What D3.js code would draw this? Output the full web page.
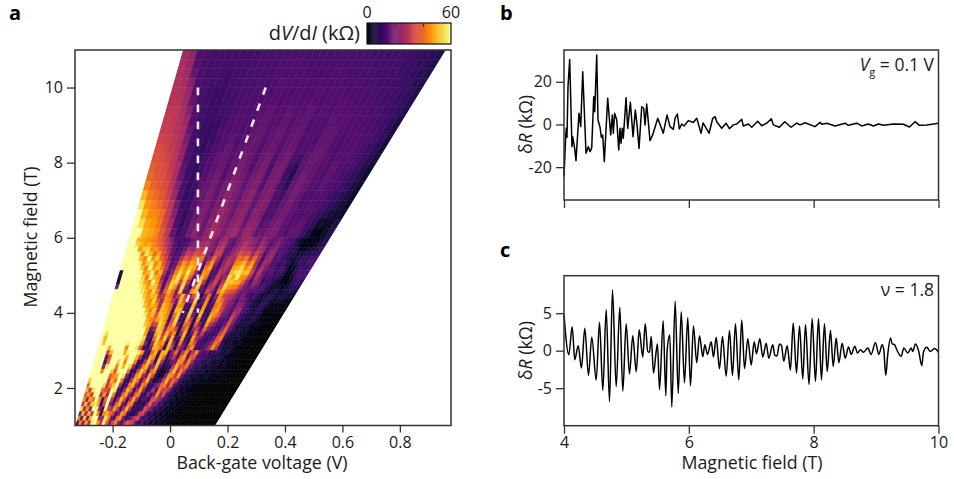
<!DOCTYPE html>
<html lang="en">
<head>
<meta charset="UTF-8">
<title>dV/dI and resistance oscillations</title>
<script src="https://d3js.org/d3.v7.min.js"></script>
<style>
  html, body { margin: 0; background: #fff; }
  text { font-family: "Open Sans", sans-serif; fill: #1a1a1a; }
  .tick text { font-size: 16px; }
  .tick line { stroke: #333; stroke-width: 1.3; }
  .domain { display: none; }
  .frame { fill: none; stroke: #333; stroke-width: 1.5; }
  .title { font-size: 17.8px; }
  .letter { font-size: 20px; font-weight: 700; fill: #000; }
  .trace { fill: none; stroke: #000; stroke-width: 1.5; stroke-linejoin: round; }
</style>
</head>
<body>
<svg id="fig" width="954" height="479"></svg>
<script>
// panel a: dV/dI in kOhm, columns run across the fan from its left edge to its right edge
// rows from 11 T down to 6 T
var upperRows = [
  [26,24,14,13,12,12,12,12,12,12,12,13,13,13,13,13,14,13,13,13,13,13,13,13,13,13,12,12,12,12,12,11,11,10,9,8],
  [27,25,15,13,12,12,12,12,12,12,12,13,13,13,14,14,14,14,13,13,13,13,13,13,13,13,13,12,12,12,12,11,11,10,9,8],
  [28,26,17,13,12,12,12,11,12,12,13,13,13,13,14,14,14,14,14,13,13,13,14,14,13,13,13,13,12,12,12,12,11,10,9,8],
  [28,27,22,14,13,12,12,11,12,12,13,13,14,13,14,15,14,14,14,14,14,14,14,14,14,13,14,13,13,12,12,12,11,11,9,8],
  [29,28,25,15,13,12,11,11,12,12,13,14,14,13,14,15,14,14,15,14,14,15,14,15,14,14,14,14,13,13,12,12,12,11,10,8],
  [29,29,26,17,13,12,11,11,12,12,13,14,14,14,15,15,14,15,15,14,15,15,14,15,14,15,14,14,13,14,13,12,12,11,10,8],
  [30,30,27,22,14,12,11,11,12,12,13,14,14,14,15,16,15,15,16,15,15,16,14,15,14,15,15,14,14,14,13,13,12,11,10,8],
  [31,30,28,25,15,12,11,11,11,12,14,15,14,14,16,16,15,15,16,15,16,16,14,15,14,16,15,15,14,14,14,13,12,12,10,7],
  [32,31,29,27,17,12,11,10,11,13,14,15,14,15,16,17,15,16,17,15,16,17,14,15,14,16,16,15,14,15,14,13,13,12,10,7],
  [33,32,30,28,20,12,11,10,11,13,15,16,14,15,17,17,15,16,18,15,17,17,14,15,14,17,16,15,13,15,15,14,13,12,10,6],
  [35,34,31,29,23,13,11,10,12,14,15,17,15,16,18,17,15,17,18,14,17,18,14,14,15,17,17,15,13,15,15,14,13,11,9,6],
  [36,35,33,30,25,14,11,10,12,14,16,17,15,16,19,18,15,18,19,14,18,19,13,12,16,18,17,15,13,15,15,14,13,11,9,6],
  [38,36,35,31,27,16,11,10,12,15,16,18,15,17,20,18,15,18,20,14,19,19,12,9,16,18,17,15,14,16,15,14,13,11,8,5],
  [40,37,36,33,28,18,12,10,12,15,17,19,15,18,21,19,16,19,21,15,19,20,12,8,16,19,17,15,14,16,15,13,12,10,8,5],
  [44,39,37,35,30,22,13,10,12,16,17,19,16,19,22,20,16,20,21,15,20,20,13,9,17,19,17,15,14,16,14,13,12,10,7,5],
  [50,42,40,37,33,26,15,10,11,16,18,20,16,20,23,20,17,21,22,16,20,21,14,12,17,19,17,14,14,15,14,12,11,9,7,4],
  [56,46,43,40,36,30,19,11,11,15,18,20,17,20,24,21,17,21,22,16,21,21,14,13,17,19,16,14,14,15,13,12,10,8,6,4],
  [60,50,45,44,40,32,23,13,10,14,18,21,17,21,25,22,18,22,23,17,22,21,14,14,18,19,16,15,14,15,13,11,9,6,5,4],
  [60,55,48,46,42,34,27,15,10,13,19,22,18,22,26,23,19,23,24,18,23,22,15,16,19,20,16,15,15,16,12,10,5,4,4,8],
  [60,60,50,48,45,38,30,18,11,13,19,23,18,23,27,24,20,24,26,19,25,23,16,18,20,21,16,14,16,16,12,8,3,2,4,8]
];
// rows from 6 T down to 1 T, finer because the fringes are finer there
var lowerRows = [
  [60,60,50,48,46,44,42,38,34,28,20,14,11,12,14,18,20,22,24,26,22,18,24,26,18,16,20,24,26,24,22,18,24,20,16,18,20,16,14,12,8,4,3,2,2,3,6,8],
  [60,60,54,50,47,48,44,40,36,30,24,15,11,12,15,20,22,26,26,28,22,18,26,28,18,15,20,24,28,26,22,18,26,22,15,18,22,16,14,12,9,5,2,2,3,4,7,9],
  [60,60,60,46,52,54,44,46,38,34,26,16,12,13,18,26,24,30,30,32,22,20,30,30,16,16,22,26,30,28,26,20,28,24,15,20,22,15,14,11,9,7,3,3,5,6,8,10],
  [60,60,60,58,44,56,50,40,48,36,30,18,13,14,22,32,30,36,34,38,22,18,34,32,16,18,24,28,36,32,34,24,34,26,14,22,24,14,15,12,8,8,5,6,8,8,9,11],
  [60,60,60,60,50,44,58,46,52,40,34,22,14,16,28,38,34,42,40,42,20,24,40,28,14,22,28,26,40,38,42,30,40,28,14,24,26,13,16,11,10,6,6,8,10,9,12,12],
  [60,60,60,60,58,46,52,56,44,50,36,28,15,18,34,46,40,48,46,40,16,34,46,22,12,24,30,24,44,46,50,38,46,26,14,26,22,14,14,10,12,7,4,7,12,10,13,13],
  [60,60,60,60,60,52,44,58,48,52,42,30,16,20,40,50,44,52,48,34,14,42,48,18,12,26,28,22,48,50,54,44,50,30,16,28,20,16,15,9,13,9,3,5,10,12,10,14],
  [8,60,60,60,60,60,46,50,56,42,50,28,14,24,44,54,46,56,44,26,12,46,44,14,14,30,26,20,50,54,56,50,52,34,18,30,18,14,16,10,12,10,2,3,8,14,12,13],
  [4,60,60,60,60,60,54,42,58,50,46,24,13,28,48,56,42,54,38,18,16,50,40,12,16,32,22,24,54,48,58,46,44,30,16,28,20,12,14,11,10,8,2,2,6,12,14,12],
  [6,60,60,60,60,60,56,48,44,58,48,30,14,32,52,54,34,52,30,12,24,52,30,10,22,34,18,30,52,52,50,48,38,24,14,24,22,10,12,12,7,5,3,2,4,10,12,10],
  [20,60,60,60,60,60,58,54,46,52,52,36,14,36,54,46,26,54,22,10,36,54,20,10,28,30,14,36,54,46,44,42,30,20,16,20,18,12,14,10,5,4,5,3,5,8,10,8],
  [60,60,60,60,60,60,60,56,50,44,54,42,18,38,50,40,20,52,16,16,46,50,14,14,34,26,12,42,50,40,36,34,26,18,18,16,14,14,12,7,4,6,8,4,6,7,8,6],
  [60,60,60,60,60,60,60,60,52,46,50,50,28,30,46,40,22,30,50,30,20,36,50,8,22,40,12,24,46,34,30,28,22,16,20,14,10,14,8,5,6,10,7,5,7,6,5,4],
  [60,60,60,60,60,60,60,60,58,48,44,54,38,24,46,44,30,18,50,38,16,24,54,10,16,44,10,18,46,40,30,24,20,14,20,18,12,10,6,4,8,10,6,4,5,4,3,2],
  [60,60,60,60,60,60,60,60,60,52,46,50,46,26,50,46,40,14,46,44,14,12,50,16,12,46,12,14,42,46,32,22,20,14,22,22,14,10,6,6,10,8,4,3,3,2,2,1],
  [60,60,60,60,60,60,60,60,60,60,50,44,52,30,50,48,42,12,50,50,12,10,54,14,10,48,10,12,44,48,34,22,18,14,24,26,14,12,8,6,10,6,3,2,2,1,1,1],
  [60,60,60,60,60,60,60,60,60,60,56,46,50,36,52,50,44,12,42,52,12,12,52,20,10,50,12,10,48,44,36,20,18,12,30,24,14,10,6,6,8,6,2,1,1,1,0,0],
  [60,60,60,60,60,60,60,60,60,60,60,50,44,40,48,52,46,14,36,54,14,10,48,30,8,46,14,10,50,38,30,16,14,14,34,22,12,8,7,6,8,5,3,2,1,1,0,0],
  [60,60,60,60,60,60,60,60,60,60,60,52,48,30,34,54,48,18,38,52,20,10,40,38,8,38,20,10,46,30,22,14,12,18,36,20,10,8,6,7,5,3,4,2,1,0,0,0],
  [60,60,60,60,60,60,60,60,60,60,60,60,46,18,24,52,50,24,44,44,34,8,34,44,8,26,32,14,40,22,16,12,10,24,38,18,12,6,7,4,6,3,2,1,1,0,0,0],
  [60,55,60,60,60,60,60,60,60,60,60,60,48,12,14,48,52,30,50,34,46,8,24,50,10,16,42,20,30,14,12,10,14,30,40,14,8,5,7,4,5,2,1,1,0,0,0,0],
  [60,50,60,60,60,60,60,60,60,60,60,60,54,14,10,40,54,36,52,22,50,14,14,48,14,10,48,26,20,12,10,12,18,36,42,10,5,7,4,6,3,2,1,0,0,0,0,0],
  [60,52,60,60,60,60,60,60,58,60,60,58,50,22,8,28,52,44,46,12,52,24,8,42,18,10,44,36,14,12,12,16,22,42,36,10,4,6,5,3,4,1,1,0,0,0,0,0],
  [60,60,60,50,60,60,60,60,44,60,60,56,36,12,10,20,50,48,38,10,50,34,8,32,20,12,36,46,14,10,14,18,28,46,30,10,7,5,6,4,2,1,1,0,0,0,0,0],
  [60,60,60,32,50,60,60,60,50,58,60,60,56,46,14,10,40,50,14,48,50,12,24,40,14,30,46,20,30,44,18,12,16,8,10,12,7,5,8,4,3,2,1,1,0,0,0,0],
  [60,60,60,16,36,60,60,60,60,50,60,60,50,30,10,14,48,46,10,50,40,10,20,30,12,40,48,16,38,36,14,14,12,10,8,6,8,6,4,3,2,1,1,0,0,0,0,0],
  [60,60,60,12,40,60,60,54,60,44,60,60,44,12,10,30,52,36,12,52,28,8,12,18,20,46,44,24,44,26,12,14,8,8,10,5,4,6,3,5,2,3,1,1,0,0,0,0],
  [60,60,60,22,56,60,60,44,60,50,60,54,24,8,18,44,50,22,24,50,18,6,8,10,30,50,34,36,42,18,14,8,10,6,5,7,4,6,2,4,3,1,1,0,0,0,0,0],
  [60,60,60,44,60,60,52,36,58,60,60,40,10,10,34,52,42,12,40,46,10,4,4,12,38,52,26,44,30,12,10,8,5,6,6,3,5,2,4,3,1,1,0,0,0,0,0,0],
  [60,60,60,60,60,60,38,44,48,60,56,22,8,18,46,50,26,18,48,34,8,3,6,22,46,44,30,46,18,10,8,4,6,5,3,4,4,2,3,1,2,1,0,0,0,0,0,0],
  [52,60,60,60,60,60,30,50,40,60,44,12,8,30,50,40,14,32,50,18,6,8,14,32,50,30,40,30,12,8,5,6,3,4,4,3,4,2,3,1,1,0,0,0,0,0,0,0],
  [40,60,60,60,60,54,30,44,52,60,28,8,14,42,50,24,14,44,38,10,10,18,24,40,44,26,40,16,10,5,7,3,5,2,2,1,1,0,0,0,0,0,0,0,0,0,0,0],
  [50,32,54,60,60,40,36,32,58,56,14,8,26,50,38,12,28,48,24,8,14,28,14,44,30,34,26,12,6,7,3,5,2,3,1,1,0,0,0,0,0,0,0,0,0,0,0,0],
  [38,46,30,58,60,28,46,24,60,44,10,14,40,48,22,14,40,44,12,8,22,14,20,46,24,36,14,8,8,3,6,2,4,1,2,1,0,0,0,0,0,0,0,0,0,0,0,0],
  [46,24,48,40,60,46,14,40,60,30,10,26,50,36,12,28,48,28,8,14,12,10,36,36,26,20,10,9,4,6,2,4,1,3,1,0,0,0,0,0,0,0,0,0,0,0,0,0],
  [30,50,28,52,56,50,10,34,60,22,14,40,48,20,14,42,44,14,8,10,8,22,40,22,22,10,12,4,7,2,5,1,3,1,1,1,0,0,0,0,0,0,0,0,0,0,0,0],
  [54,26,46,22,60,58,24,10,58,34,28,46,32,12,30,50,28,8,10,8,12,36,28,20,10,12,5,8,3,5,1,4,1,2,1,0,0,0,0,0,0,0,0,0,0,0,0,0],
  [20,50,24,50,30,60,46,10,44,50,40,34,14,22,46,40,12,8,6,14,30,34,18,8,12,4,8,3,6,1,4,1,3,1,0,1,0,0,0,0,0,0,0,0,0,0,0,0],
  [44,18,52,20,50,60,60,24,26,56,46,18,14,40,46,20,10,14,22,30,36,16,10,14,5,9,3,7,2,5,1,3,1,2,0,1,0,0,0,0,0,0,0,0,0,0,0,0],
  [14,44,22,48,26,56,60,46,30,58,40,20,34,44,24,14,26,38,34,30,14,8,16,6,10,3,8,2,6,1,4,1,2,1,1,0,1,0,0,0,0,0,0,0,0,0,0,0]
];
var fanField = [1, 11];
var fanLeft = [-0.33, 0.045];
var fanRight = [0.157, 0.96];
var dash1V = [0.097, 0.097], dash1B = [10, 4];
var dash2V = [0.333, 0.044], dash2B = [10, 4];
var gateTicks = [-0.2, 0, 0.2, 0.4, 0.6, 0.8];
var mapFieldTicks = [2, 4, 6, 8, 10];
var barTicks = [20, 40];
var barLabels = [0, 60];

// panel b: delta R at Vg = 0.1 V
var bField = [4.00,4.027,4.037,4.048,4.064,4.091,4.128,4.139,4.171,4.192,4.240,4.268,4.300,4.353,4.389,4.417,4.444,4.476,4.492,4.524,4.545,4.577,4.598,4.620,4.646,4.700,4.748,4.774,4.790,4.812,4.845,4.877,4.897,4.913,4.934,4.950,4.994,5.021,5.063,5.106,5.143,5.170,5.202,5.245,5.277,5.298,5.325,5.378,5.421,5.502,5.591,5.651,5.699,5.752,5.779,5.816,5.848,5.886,5.923,5.992,6.072,6.127,6.196,6.228,6.324,6.383,6.420,6.447,6.527,6.596,6.649,6.713,6.768,6.848,6.873,6.954,7.008,7.104,7.168,7.248,7.322,7.354,7.450,7.537,7.638,7.729,7.782,7.862,8.022,8.103,8.130,8.210,8.343,8.503,8.556,8.691,8.771,8.877,8.957,9.037,9.117,9.280,9.438,9.534,9.625,9.694,9.813,10.00];
var bValue = [-24.4,-5.7,-1.8,-6,17.7,30.5,-10.4,-5.7,-11.2,-17,5.2,-1,24.7,-13.5,-10.4,-12.7,-11,13,6,32.5,2.1,-1.3,-6,-4.9,-17.4,12.3,-4.9,4.4,-4.1,5.2,2.1,-12,-1.8,-8.8,-1.8,-6.5,12.5,-1.8,10.4,-5.7,6.8,-0.2,-11.2,8.3,7.6,-0.2,9.6,-7.6,-4.9,2.9,-4.1,4.4,-1,-2.3,2.9,4.9,-2.1,0.2,-0.7,1.8,0.9,2.9,-4.1,0.7,-4.1,2.9,3.7,1.3,-1.8,0.6,-2,-0.2,0.2,2.4,-0.7,0.2,-1.3,1.5,-0.6,0.6,2.7,-0.2,-1.3,1.3,-1.3,0.6,-0.2,0.8,-1,1,0.1,0.6,-0.7,0.6,-0.4,0.6,-0.7,0.2,-0.7,0.2,-0.4,0.2,0.1,-1.2,1.3,-0.4,-0.2,0.6];
var bValueTicks = [-20, 0, 20];
var fieldTicks = [4, 6, 8, 10];

// panel c: delta R at nu = 1.8
var cField = [4.00,4.077,4.131,4.173,4.227,4.280,4.333,4.392,4.445,4.516,4.569,4.622,4.676,4.729,4.777,4.836,4.894,4.942,4.996,5.049,5.102,5.157,5.205,5.262,5.301,5.342,5.370,5.397,5.434,5.477,5.498,5.530,5.589,5.631,5.653,5.695,5.727,5.781,5.830,5.878,5.930,5.983,6.026,6.074,6.127,6.171,6.224,6.256,6.299,6.358,6.395,6.438,6.491,6.539,6.598,6.651,6.699,6.747,6.800,6.848,6.892,6.945,6.999,7.047,7.084,7.137,7.185,7.239,7.281,7.345,7.377,7.412,7.452,7.484,7.521,7.576,7.628,7.672,7.725,7.773,7.826,7.869,7.925,7.976,8.029,8.077,8.125,8.173,8.217,8.269,8.313,8.361,8.403,8.457,8.505,8.558,8.601,8.659,8.702,8.750,8.798,8.867,8.921,8.990,9.043,9.098,9.123,9.155,9.187,9.231,9.258,9.295,9.331,9.402,9.444,9.508,9.562,9.588,9.631,9.684,9.732,9.759,9.812,9.867,9.936,10.00];
var cValue = [4.8,-0.53,3.2,-1.2,0.67,-2.3,3.0,-3.3,1.8,-3.9,3.8,-5.3,5.5,-6.8,8.1,-4.8,5.8,-5.4,3.6,-3.1,2.0,-2.8,2.8,-0.85,3.6,-0.1,-0.2,1.9,-3.0,-0.1,0.9,-5.2,4.0,-6,0.1,2.1,-7.5,6.6,-5.7,5.2,-4.3,4.4,-4.7,3.3,-1.6,2.0,-0.8,0.8,-0.5,1.2,-0.85,1.8,-2.4,1.9,-3.4,2.7,-3.3,3.6,-3.9,4.1,-2.4,1.6,-1.9,1.2,-0.4,1.6,-0.85,1.0,-1.0,0.8,-0.6,-0.7,0.9,0.7,-1.4,0.67,-2.6,3.7,-3.0,3.3,-3.8,3.5,-4.5,4.3,-4.1,4.3,-3.9,3.6,-2.8,2.7,-2.1,1.7,-1.6,1.0,-1.0,0.5,-0.5,0.6,-0.3,0.13,-0.2,0.35,-0.5,1.1,-0.5,0.8,0.13,-3.3,-0.5,1.7,0.9,0.8,0.13,-0.75,0.35,-0.3,0.35,-0.1,0.9,-0.1,-2.0,-0.2,0.45,-0.1,0.3,-0.2];
var cValueTicks = [-5, 0, 5];

function makeChart() {
  var svg = d3.select('#fig');
  var fmt = function(d) { return String(d); };

  // ---- panel a ----
  var x = d3.scaleLinear().domain([-0.331, 0.978]).range([75, 451]);
  var y = d3.scaleLinear().domain([1, 11]).range([425.5, 50]);
  var color = d3.scaleSequential(d3.interpolateInferno).domain([0, 60]);

  var edgeL = d3.scaleLinear().domain(fanField).range(fanLeft);
  var edgeR = d3.scaleLinear().domain(fanField).range(fanRight);
  var fanX = function(b, t) { return x(edgeL(b) + t * (edgeR(b) - edgeL(b))); };

  var defs = svg.append('defs');
  defs.append('clipPath').attr('id', 'fan').append('polygon')
    .attr('points', [[fanField[0], 0], [fanField[0], 1], [fanField[1], 1], [fanField[1], 0]]
      .map(function(p) { return fanX(p[0], p[1]) + ',' + y(p[0]); }).join(' '));
  defs.append('filter').attr('id', 'soft')
    .attr('filterUnits', 'userSpaceOnUse')
    .attr('x', 60).attr('y', 30).attr('width', 410).attr('height', 420)
    .append('feGaussianBlur').attr('stdDeviation', 0.7);

  var cells = [];
  function addRows(rows, from, to) {
    var rowField = d3.scaleLinear().domain([0, rows.length]).range([from, to]);
    rows.forEach(function(row, r) {
      row.forEach(function(v, c) {
        cells.push({ b0: rowField(r), b1: rowField(r + 1), t0: c / row.length, t1: (c + 1) / row.length, v: v });
      });
    });
  }
  addRows(upperRows, 11, 6);
  addRows(lowerRows, 6, 1);

  svg.append('g').attr('clip-path', 'url(#fan)')
    .append('g').attr('filter', 'url(#soft)')
    .selectAll('polygon').data(cells).enter().append('polygon')
    .attr('points', function(d) {
      return [[d.b0, d.t0], [d.b0, d.t1], [d.b1, d.t1], [d.b1, d.t0]]
        .map(function(p) { return fanX(p[0], p[1]) + ',' + y(p[0]); }).join(' ');
    })
    .attr('fill', function(d) { return color(d.v); })
    .attr('stroke', function(d) { return color(d.v); })
    .attr('stroke-width', 0.5);

  var dashLine = d3.line().x(function(d) { return x(d[0]); }).y(function(d) { return y(d[1]); });
  [d3.zip(dash1V, dash1B), d3.zip(dash2V, dash2B)].forEach(function(pts) {
    svg.append('path').attr('d', dashLine(pts))
      .attr('fill', 'none').attr('stroke', '#f1e9f1')
      .attr('stroke-width', 2.6).attr('stroke-dasharray', '7.7 9.3');
  });

  svg.append('rect').attr('class', 'frame')
    .attr('x', 75).attr('y', 50).attr('width', 376).attr('height', 375.5);
  svg.append('g').attr('transform', 'translate(75,0)')
    .call(d3.axisLeft(y).tickValues(mapFieldTicks).tickSize(8).tickPadding(4).tickFormat(fmt));
  svg.append('g').attr('transform', 'translate(0,425.5)')
    .call(d3.axisBottom(x).tickValues(gateTicks).tickSize(7).tickPadding(4).tickFormat(fmt));

  svg.append('text').attr('class', 'title').attr('text-anchor', 'middle')
    .attr('x', 262).attr('y', 469).text('Back-gate voltage (V)');
  svg.append('text').attr('class', 'title').attr('text-anchor', 'middle')
    .attr('transform', 'translate(37,237) rotate(-90)').text('Magnetic field (T)');

  // colour bar
  var barX = d3.scaleLinear().domain([0, 60]).range([367, 451]);
  svg.append('g').selectAll('rect').data(d3.range(0, 60, 0.75)).enter().append('rect')
    .attr('x', function(d) { return barX(d); })
    .attr('y', 23).attr('height', 21)
    .attr('width', barX(0.75) - barX(0) + 0.4)
    .attr('fill', function(d) { return color(d + 0.375); });
  svg.append('rect').attr('x', 367).attr('y', 23).attr('width', 84).attr('height', 21)
    .attr('fill', 'none').attr('stroke', '#111').attr('stroke-width', 1.2);
  svg.append('g').attr('transform', 'translate(0,23)')
    .call(d3.axisBottom(barX).tickValues(barTicks).tickSize(4).tickFormat(''))
    .selectAll('line').attr('stroke', '#000');
  svg.append('g').selectAll('text').data(barLabels).enter().append('text')
    .attr('x', function(d) { return barX(d); }).attr('y', 18)
    .attr('text-anchor', 'middle').attr('font-size', 16).text(fmt);
  var barTitle = svg.append('text').attr('text-anchor', 'end')
    .attr('x', 360).attr('y', 40).attr('font-size', 20);
  barTitle.append('tspan').text('d');
  barTitle.append('tspan').attr('font-style', 'italic').text('V');
  barTitle.append('tspan').text('/d');
  barTitle.append('tspan').attr('font-style', 'italic').text('I');
  barTitle.append('tspan').text(' (k\u03a9)');

  // ---- panels b and c ----
  function tracePanel(top, bottom, yDomain, yTicks, xs, ys, curve, labels) {
    var px = d3.scaleLinear().domain([4, 10]).range([564, 938.5]);
    var py = d3.scaleLinear().domain(yDomain).range([bottom, top]);
    var line = d3.line().curve(curve)
      .x(function(d) { return px(d[0]); }).y(function(d) { return py(d[1]); });
    svg.append('path').attr('class', 'trace').attr('d', line(d3.zip(xs, ys)));
    svg.append('rect').attr('class', 'frame')
      .attr('x', 564).attr('y', top).attr('width', 374.5).attr('height', bottom - top);
    svg.append('g').attr('transform', 'translate(564,0)')
      .call(d3.axisLeft(py).tickValues(yTicks).tickSize(8).tickPadding(4).tickFormat(fmt));
    svg.append('g').attr('transform', 'translate(0,' + bottom + ')')
      .call(d3.axisBottom(px).tickValues(fieldTicks).tickSize(8).tickPadding(3)
        .tickFormat(labels ? fmt : ''));
    var title = svg.append('text').attr('class', 'title').attr('text-anchor', 'middle')
      .attr('transform', 'translate(532,' + py(0) + ') rotate(-90)');
    title.append('tspan').text('\u03b4');
    title.append('tspan').attr('font-style', 'italic').text('R');
    title.append('tspan').text(' (k\u03a9)');
  }

  tracePanel(50, 200, [-35.4, 34.9], bValueTicks, bField, bValue, d3.curveLinear, false);
  tracePanel(275.7, 425.7, [-10, 10], cValueTicks, cField, cValue, d3.curveMonotoneX, true);

  svg.append('text').attr('class', 'title').attr('text-anchor', 'middle')
    .attr('x', 752).attr('y', 469).text('Magnetic field (T)');

  var vg = svg.append('text').attr('text-anchor', 'end')
    .attr('x', 934).attr('y', 71).attr('font-size', 17.5);
  vg.append('tspan').attr('font-style', 'italic').text('V');
  vg.append('tspan').attr('font-size', 11).attr('dy', 5).text('g');
  vg.append('tspan').attr('dy', -5).text(' = 0.1 V');
  svg.append('text').attr('text-anchor', 'end')
    .attr('x', 934).attr('y', 296).attr('font-size', 17.5).text('\u03bd = 1.8');

  // panel letters
  svg.append('text').attr('class', 'letter').attr('x', 9).attr('y', 20).text('a');
  svg.append('text').attr('class', 'letter').attr('x', 500).attr('y', 20).text('b');
  svg.append('text').attr('class', 'letter').attr('x', 500).attr('y', 257).text('c');
}
makeChart();
</script>
</body>
</html>
